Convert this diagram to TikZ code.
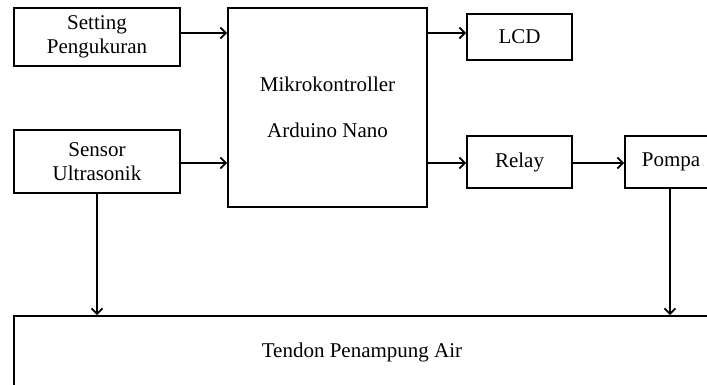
\documentclass[tikz,border=0pt]{standalone}
\usepackage{fontspec}
\setmainfont{Liberation Serif}
\usetikzlibrary{arrows.meta}
\tikzset{
  blk/.style={draw, line width=1.8pt, rectangle, inner sep=0pt, align=center,
    font=\fontsize{21}{24}\selectfont},
  arr/.style={line width=1.8pt, -{Straight Barb[length=5.5pt,width=11pt]}}
}
\begin{document}
\begin{tikzpicture}[x=1pt,y=-1pt]
\useasboundingbox (0,0) rectangle (707,385);
\clip (0,0) rectangle (707,385);
\node[blk, minimum width=166pt, minimum height=58pt] (setting) at (97,37) {Setting\\Pengukuran};
\node[blk, minimum width=166pt, minimum height=63pt] (sensor) at (97,161.5) {Sensor\\Ultrasonik};
\node[blk, minimum width=199pt, minimum height=199pt] (mikro) at (327.5,107.5) {Mikrokontroller\\[22pt]Arduino Nano};
\node[blk, minimum width=105pt, minimum height=46pt] (lcd) at (519.5,37) {LCD};
\node[blk, minimum width=105pt, minimum height=52pt] (relay) at (519.5,162) {Relay};
\node[blk, minimum width=92pt, minimum height=52pt] (pompa) at (671,162) {Pompa};
\node[blk, minimum width=696pt, minimum height=72pt] (tendon) at (362,352) {Tendon Penampung Air};

\draw[arr] ([yshift=4pt]setting.east) -- ([yshift=4pt]setting.east -| mikro.west);
\draw[arr] ([yshift=-1.5pt]sensor.east) -- ([yshift=-1.5pt]sensor.east -| mikro.west);
\draw[arr] ([yshift=4pt]lcd.west -| mikro.east) -- ([yshift=4pt]lcd.west);
\draw[arr] ([yshift=-1pt]relay.west -| mikro.east) -- ([yshift=-1pt]relay.west);
\draw[arr] ([yshift=-1pt]relay.east) -- ([yshift=-1pt]pompa.west);
\draw[arr] (sensor.south) -- (sensor.south |- tendon.north);
\draw[arr] ([xshift=-1pt]pompa.south) -- ([xshift=-1pt]pompa.south |- tendon.north);
\end{tikzpicture}
\end{document}
